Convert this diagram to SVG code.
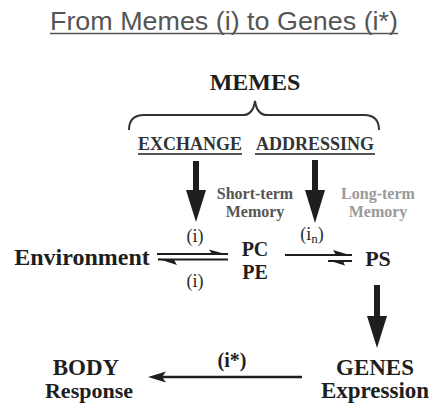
<svg xmlns="http://www.w3.org/2000/svg" width="433" height="406" viewBox="0 0 433 406">
<style>
.t{font-family:"Liberation Serif","Times New Roman",serif;font-weight:bold;fill:#1e1e1e}
.r{font-family:"Liberation Serif","Times New Roman",serif;fill:#2a2a2a}
.ln{stroke:#1e1e1e;stroke-width:2;fill:none}
.hd{fill:#1e1e1e;stroke:none}
</style>
<rect width="433" height="406" fill="#ffffff"/>
<g id="title">
<text x="224" y="30" text-anchor="middle" font-family="'Liberation Sans',Arial,sans-serif" font-size="25" fill="#555555" textLength="348" lengthAdjust="spacingAndGlyphs">From Memes (i) to Genes (i*)</text>
<line x1="50" y1="33.5" x2="398" y2="33.5" stroke="#555555" stroke-width="1.5"/>
</g>
<g id="memes">
<text class="t" x="255" y="90" text-anchor="middle" font-size="24">MEMES</text>
<path d="M129,130 Q129,115 144,115 L243,115 Q253,115 255,101 Q257,115 267,115 L364,115 Q379,115 379,130" stroke="#333333" stroke-width="2" fill="none"/>
</g>
<g id="exchange">
<text class="t" x="190" y="150" text-anchor="middle" font-size="18" style="fill:#333333">EXCHANGE</text>
<line x1="138" y1="154" x2="242" y2="154" stroke="#555555" stroke-width="2"/>
</g>
<g id="addressing">
<text class="t" x="315" y="150" text-anchor="middle" font-size="18" style="fill:#333333">ADDRESSING</text>
<line x1="255" y1="154" x2="375" y2="154" stroke="#555555" stroke-width="2"/>
</g>
<g id="short-term">
<text class="t" x="255" y="199" text-anchor="middle" font-size="16" style="fill:#555555">Short-term</text>
<text class="t" x="255" y="217" text-anchor="middle" font-size="16" style="fill:#555555">Memory</text>
</g>
<g id="long-term">
<text class="t" x="378" y="199" text-anchor="middle" font-size="16" style="fill:#9a9a9a">Long-term</text>
<text class="t" x="378" y="217" text-anchor="middle" font-size="16" style="fill:#9a9a9a">Memory</text>
</g>
<g id="environment">
<text class="t" x="82" y="265" text-anchor="middle" font-size="24">Environment</text>
</g>
<g id="pcpe">
<text class="t" x="255" y="256" text-anchor="middle" font-size="20">PC</text>
<text class="t" x="255" y="278.5" text-anchor="middle" font-size="20">PE</text>
</g>
<g id="ps">
<text class="t" x="378" y="266" text-anchor="middle" font-size="22">PS</text>
</g>
<g id="genes">
<text class="t" x="375" y="375" text-anchor="middle" font-size="23">GENES</text>
<text class="t" x="375" y="398" text-anchor="middle" font-size="23">Expression</text>
</g>
<g id="body">
<text class="t" x="86" y="375" text-anchor="middle" font-size="23">BODY</text>
<text class="t" x="89" y="398" text-anchor="middle" font-size="22">Response</text>
</g>
<g id="connectors">
<rect class="hd" x="193" y="161" width="6" height="31"/>
<polygon class="hd" points="186,190 206,190 196,222"/>
<rect class="hd" x="312" y="160" width="6" height="32"/>
<polygon class="hd" points="305,190 325,190 315,223"/>
<rect class="hd" x="374" y="285" width="6" height="33"/>
<polygon class="hd" points="367,316 387,316 377,348"/>
<line class="ln" x1="157" y1="254" x2="228" y2="254"/>
<polygon class="hd" points="229,255 209,249.5 212,254"/>
<line class="ln" x1="158" y1="259.5" x2="228" y2="259.5"/>
<polygon class="hd" points="157,258.5 177,265 174,260"/>
<line class="ln" x1="285" y1="255" x2="352" y2="255"/>
<polygon class="hd" points="353,256 333,250 336,255"/>
<line class="ln" x1="328" y1="261" x2="352" y2="261"/>
<polygon class="hd" points="327,260 345,265.5 343,261"/>
<line class="ln" x1="160" y1="377" x2="302" y2="377" style="stroke-width:2.5"/>
<polygon class="hd" points="148,377 166,371.5 162,377 166,382.5"/>
<text class="r" x="195" y="242" text-anchor="middle" font-size="18">(i)</text>
<text class="r" x="312" y="240" text-anchor="middle" font-size="18">(i<tspan font-size="13" dy="3">n</tspan><tspan dy="-3">)</tspan></text>
<text class="r" x="195" y="287" text-anchor="middle" font-size="18">(i)</text>
<text class="t" x="232" y="367" text-anchor="middle" font-size="20">(i*)</text>
</g>
</svg>
